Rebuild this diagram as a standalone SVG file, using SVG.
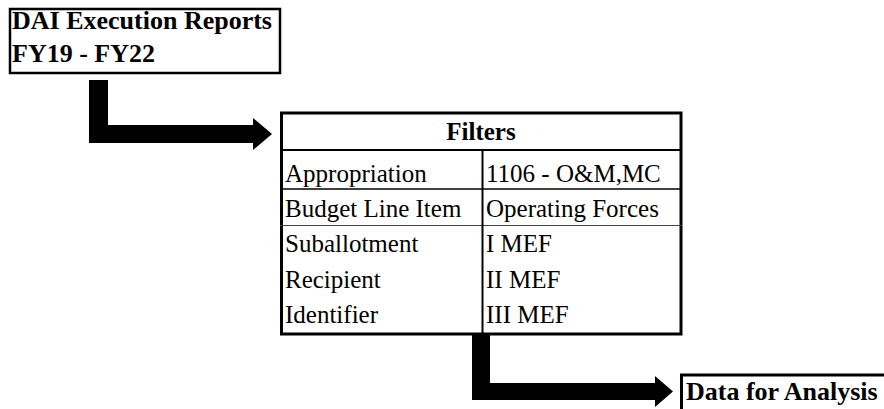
<svg xmlns="http://www.w3.org/2000/svg" width="884" height="409" viewBox="0 0 884 409">
<style>
text{font-family:"Liberation Serif","Times New Roman",serif;fill:#000}
.b{font-weight:bold;font-size:26px}
.h{font-weight:bold;font-size:25px}
.r{font-size:25px}
.box{fill:#fff;stroke:#000}
.arr{fill:#000;stroke:none}
.grid{stroke:#000}
</style>
<rect width="884" height="409" fill="#fff"/>
<g id="connectors">
<polygon class="arr" points="89,80 108,80 108,125 253,125 253,118 272,134 253,150 253,143 89,143"/>
<polygon class="arr" points="472,334 490,334 490,383 655,383 655,376 673,391.5 655,407 655,400 472,400"/>
</g>
<g id="source">
<rect class="box" x="10" y="9" width="270" height="64" stroke-width="2.5"/>
<text class="b" x="12" y="29">DAI Execution Reports</text>
<text class="b" x="12" y="62">FY19 - FY22</text>
</g>
<g id="filters">
<rect class="box" x="281.5" y="113" width="399.5" height="221" stroke-width="3"/>
<line class="grid" x1="280" y1="150" x2="682" y2="150" stroke-width="2"/>
<line class="grid" x1="280" y1="189" x2="682" y2="189" stroke-width="1.5"/>
<line x1="280" y1="225.5" x2="682" y2="225.5" stroke="#444" stroke-width="1"/>
<line class="grid" x1="482.5" y1="150" x2="482.5" y2="334" stroke-width="2"/>
<text class="h" x="481" y="140" text-anchor="middle">Filters</text>
<text class="r" x="285" y="182">Appropriation</text>
<text class="r" x="486" y="182">1106 - O&amp;M,MC</text>
<text class="r" x="285" y="217">Budget Line Item</text>
<text class="r" x="486" y="217">Operating Forces</text>
<text class="r" x="285" y="252">Suballotment</text>
<text class="r" x="486" y="252">I MEF</text>
<text class="r" x="285" y="288">Recipient</text>
<text class="r" x="486" y="288">II MEF</text>
<text class="r" x="285" y="323">Identifier</text>
<text class="r" x="486" y="323">III MEF</text>
</g>
<g id="output">
<rect class="box" x="681.5" y="375" width="220" height="60" stroke-width="3"/>
<text class="b" x="686" y="400">Data for Analysis</text>
</g>
</svg>
